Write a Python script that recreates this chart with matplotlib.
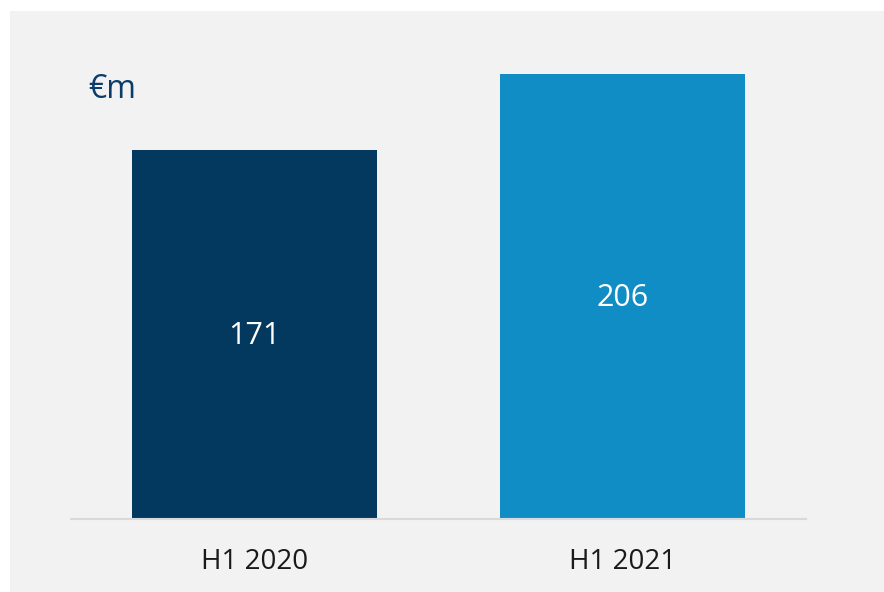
import matplotlib.pyplot as plt
from matplotlib.patches import Rectangle

categories = ["H1 2020", "H1 2021"]
values = [171, 206]
colors = ["#03395f", "#118dc6"]
unit_label = "€m"

W, H = 884, 592
fig = plt.figure(figsize=(W / 100, H / 100), dpi=100)
fig.patch.set_facecolor("white")
fig.patches.append(Rectangle((10 / W, 0), 1 - 10 / W, (H - 11) / H,
                             transform=fig.transFigure, facecolor="#f2f2f2",
                             edgecolor="none", zorder=-10))

# axes: x 71..806 px, y baseline at 519 px, top at 11 px
ax = fig.add_axes([71 / W, (H - 519) / H, (806 - 71) / W, (519 - 11) / H])
ax.set_facecolor("none")
ax.set_xlim(-0.5, 1.5)
ax.set_ylim(0, 508 / 2.159)

x = list(range(len(categories)))
bars = ax.bar(x, values, width=0.668, color=colors, zorder=2)

font = "Open Sans"
for xi, v in zip(x, values):
    ax.text(xi, v / 2 - 0.7, str(v), ha="center", va="center", color="white",
            fontsize=22, family=font)

for s in ["top", "right", "left"]:
    ax.spines[s].set_visible(False)
ax.spines["bottom"].set_color("#d9d9d9")
ax.spines["bottom"].set_linewidth(1.5)
ax.set_yticks([])
ax.set_xticks(x)
ax.set_xticklabels(categories, fontsize=20, family=font, color="#1a1a1a")
ax.tick_params(axis="x", length=0, pad=21)

fig.text(88 / W, 1 - 90 / H, unit_label, ha="left", va="center",
         fontsize=23, family=font, color="#0a3d6b")

fig.savefig("out.png", dpi=100, facecolor=fig.get_facecolor())
